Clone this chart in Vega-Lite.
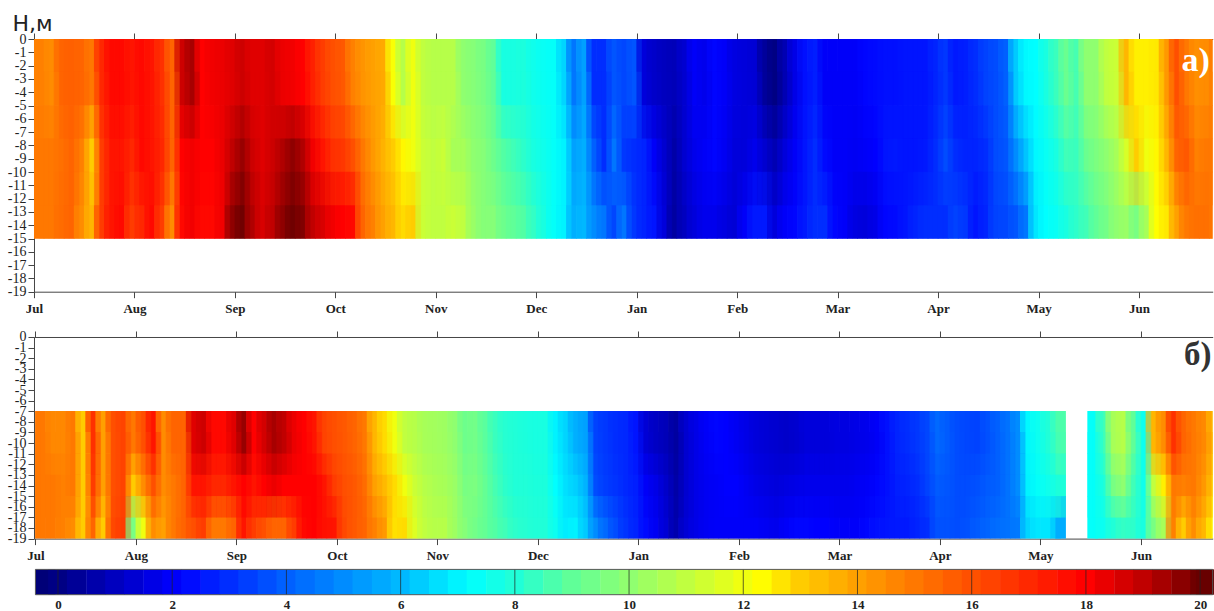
{"$schema":"https://vega.github.io/schema/vega-lite/v6.json","bounds":"flush","spacing":45,"padding":{"left":7,"top":12,"right":0,"bottom":0},"background":"white","config":{"view":{"stroke":null},"axis":{"grid":false,"labelFont":"Liberation Serif","labelColor":"#222","domainColor":"#444","tickColor":"#444","tickSize":6,"labelOverlap":false,"labelFlush":false,"labelBound":false}},"datasets":{"a":[
{"t":0.05,"d":-2.5,"v":14.8},{"t":0.05,"d":-7.5,"v":15},{"t":0.05,"d":-12.5,"v":15},
{"t":0.15,"d":-2.5,"v":14.5},{"t":0.15,"d":-7.5,"v":15},{"t":0.15,"d":-12.5,"v":15},
{"t":0.25,"d":-2.5,"v":15.5},{"t":0.25,"d":-7.5,"v":15.2},{"t":0.25,"d":-12.5,"v":15.3},
{"t":0.35,"d":-2.5,"v":15.6},{"t":0.35,"d":-7.5,"v":15.5},{"t":0.35,"d":-12.5,"v":15.5},
{"t":0.45,"d":-2.5,"v":15.5},{"t":0.45,"d":-7.5,"v":14.8},{"t":0.45,"d":-12.5,"v":14.5},
{"t":0.55,"d":-2.5,"v":15},{"t":0.55,"d":-7.5,"v":13},{"t":0.55,"d":-12.5,"v":13.5},
{"t":0.65,"d":-2.5,"v":17},{"t":0.65,"d":-7.5,"v":16.5},{"t":0.65,"d":-12.5,"v":16.5},
{"t":0.75,"d":-2.5,"v":17.8},{"t":0.75,"d":-7.5,"v":17.5},{"t":0.75,"d":-12.5,"v":17.5},
{"t":0.85,"d":-2.5,"v":17.8},{"t":0.85,"d":-7.5,"v":17.5},{"t":0.85,"d":-12.5,"v":17.8},
{"t":0.95,"d":-2.5,"v":17.5},{"t":0.95,"d":-7.5,"v":17},{"t":0.95,"d":-12.5,"v":16.5},
{"t":1.05,"d":-2.5,"v":17.8},{"t":1.05,"d":-7.5,"v":17.8},{"t":1.05,"d":-12.5,"v":17},
{"t":1.15,"d":-2.5,"v":17.5},{"t":1.15,"d":-7.5,"v":17.5},{"t":1.15,"d":-12.5,"v":17.8},
{"t":1.25,"d":-2.5,"v":16.8},{"t":1.25,"d":-7.5,"v":17},{"t":1.25,"d":-12.5,"v":16.5},
{"t":1.35,"d":-2.5,"v":15.5},{"t":1.35,"d":-7.5,"v":15.5},{"t":1.35,"d":-12.5,"v":14.5},
{"t":1.45,"d":-2.5,"v":18.8},{"t":1.45,"d":-7.5,"v":18},{"t":1.45,"d":-12.5,"v":17.8},
{"t":1.55,"d":-2.5,"v":19.3},{"t":1.55,"d":-7.5,"v":18.2},{"t":1.55,"d":-12.5,"v":18.2},
{"t":1.65,"d":-2.5,"v":18},{"t":1.65,"d":-7.5,"v":18},{"t":1.65,"d":-12.5,"v":17.8},
{"t":1.75,"d":-2.5,"v":18.2},{"t":1.75,"d":-7.5,"v":18},{"t":1.75,"d":-12.5,"v":17.8},
{"t":1.85,"d":-2.5,"v":18.3},{"t":1.85,"d":-7.5,"v":18.3},{"t":1.85,"d":-12.5,"v":18.2},
{"t":1.95,"d":-2.5,"v":18.5},{"t":1.95,"d":-7.5,"v":19},{"t":1.95,"d":-12.5,"v":19.6},
{"t":2.05,"d":-2.5,"v":18.8},{"t":2.05,"d":-7.5,"v":19.5},{"t":2.05,"d":-12.5,"v":20},
{"t":2.15,"d":-2.5,"v":18.5},{"t":2.15,"d":-7.5,"v":18.8},{"t":2.15,"d":-12.5,"v":19.2},
{"t":2.25,"d":-2.5,"v":18.5},{"t":2.25,"d":-7.5,"v":18.5},{"t":2.25,"d":-12.5,"v":18.6},
{"t":2.35,"d":-2.5,"v":18.7},{"t":2.35,"d":-7.5,"v":18.8},{"t":2.35,"d":-12.5,"v":19},
{"t":2.45,"d":-2.5,"v":18.3},{"t":2.45,"d":-7.5,"v":19.2},{"t":2.45,"d":-12.5,"v":19.6},
{"t":2.55,"d":-2.5,"v":18.2},{"t":2.55,"d":-7.5,"v":19.6},{"t":2.55,"d":-12.5,"v":20},
{"t":2.65,"d":-2.5,"v":18},{"t":2.65,"d":-7.5,"v":19.2},{"t":2.65,"d":-12.5,"v":19.8},
{"t":2.75,"d":-2.5,"v":17.2},{"t":2.75,"d":-7.5,"v":18.2},{"t":2.75,"d":-12.5,"v":19},
{"t":2.85,"d":-2.5,"v":16.5},{"t":2.85,"d":-7.5,"v":17.5},{"t":2.85,"d":-12.5,"v":18.6},
{"t":2.95,"d":-2.5,"v":16},{"t":2.95,"d":-7.5,"v":16.8},{"t":2.95,"d":-12.5,"v":18.2},
{"t":3.05,"d":-2.5,"v":15.8},{"t":3.05,"d":-7.5,"v":16.6},{"t":3.05,"d":-12.5,"v":18},
{"t":3.15,"d":-2.5,"v":14.8},{"t":3.15,"d":-7.5,"v":16},{"t":3.15,"d":-12.5,"v":17.8},
{"t":3.25,"d":-2.5,"v":14.3},{"t":3.25,"d":-7.5,"v":15},{"t":3.25,"d":-12.5,"v":15.5},
{"t":3.35,"d":-2.5,"v":14},{"t":3.35,"d":-7.5,"v":14.2},{"t":3.35,"d":-12.5,"v":14.8},
{"t":3.45,"d":-2.5,"v":13.8},{"t":3.45,"d":-7.5,"v":13.6},{"t":3.45,"d":-12.5,"v":14},
{"t":3.55,"d":-2.5,"v":12.2},{"t":3.55,"d":-7.5,"v":13},{"t":3.55,"d":-12.5,"v":13.5},
{"t":3.65,"d":-2.5,"v":10.8},{"t":3.65,"d":-7.5,"v":12.4},{"t":3.65,"d":-12.5,"v":12.8},
{"t":3.75,"d":-2.5,"v":12},{"t":3.75,"d":-7.5,"v":12},{"t":3.75,"d":-12.5,"v":13},
{"t":3.85,"d":-2.5,"v":11},{"t":3.85,"d":-7.5,"v":11.2},{"t":3.85,"d":-12.5,"v":11.2},
{"t":3.95,"d":-2.5,"v":10.8},{"t":3.95,"d":-7.5,"v":11},{"t":3.95,"d":-12.5,"v":11},
{"t":4.05,"d":-2.5,"v":10.8},{"t":4.05,"d":-7.5,"v":11.2},{"t":4.05,"d":-12.5,"v":11},
{"t":4.15,"d":-2.5,"v":10.8},{"t":4.15,"d":-7.5,"v":10.5},{"t":4.15,"d":-12.5,"v":11.2},
{"t":4.25,"d":-2.5,"v":10},{"t":4.25,"d":-7.5,"v":10.5},{"t":4.25,"d":-12.5,"v":11},
{"t":4.35,"d":-2.5,"v":9.8},{"t":4.35,"d":-7.5,"v":10},{"t":4.35,"d":-12.5,"v":10.2},
{"t":4.45,"d":-2.5,"v":9.5},{"t":4.45,"d":-7.5,"v":9.8},{"t":4.45,"d":-12.5,"v":9.8},
{"t":4.55,"d":-2.5,"v":9},{"t":4.55,"d":-7.5,"v":9.3},{"t":4.55,"d":-12.5,"v":9.8},
{"t":4.65,"d":-2.5,"v":7.8},{"t":4.65,"d":-7.5,"v":8.8},{"t":4.65,"d":-12.5,"v":9.3},
{"t":4.75,"d":-2.5,"v":7.8},{"t":4.75,"d":-7.5,"v":8.5},{"t":4.75,"d":-12.5,"v":9},
{"t":4.85,"d":-2.5,"v":7.9},{"t":4.85,"d":-7.5,"v":8.2},{"t":4.85,"d":-12.5,"v":8.8},
{"t":4.95,"d":-2.5,"v":7.6},{"t":4.95,"d":-7.5,"v":7.8},{"t":4.95,"d":-12.5,"v":8.3},
{"t":5.05,"d":-2.5,"v":7.4},{"t":5.05,"d":-7.5,"v":7.6},{"t":5.05,"d":-12.5,"v":7.8},
{"t":5.15,"d":-2.5,"v":7.3},{"t":5.15,"d":-7.5,"v":7.3},{"t":5.15,"d":-12.5,"v":7.3},
{"t":5.25,"d":-2.5,"v":6.5},{"t":5.25,"d":-7.5,"v":7},{"t":5.25,"d":-12.5,"v":7},
{"t":5.35,"d":-2.5,"v":4.5},{"t":5.35,"d":-7.5,"v":5.5},{"t":5.35,"d":-12.5,"v":5.8},
{"t":5.45,"d":-2.5,"v":5.5},{"t":5.45,"d":-7.5,"v":5.8},{"t":5.45,"d":-12.5,"v":6},
{"t":5.55,"d":-2.5,"v":3},{"t":5.55,"d":-7.5,"v":4},{"t":5.55,"d":-12.5,"v":5},
{"t":5.65,"d":-2.5,"v":3},{"t":5.65,"d":-7.5,"v":3},{"t":5.65,"d":-12.5,"v":4.5},
{"t":5.75,"d":-2.5,"v":3.8},{"t":5.75,"d":-7.5,"v":4.5},{"t":5.75,"d":-12.5,"v":3.5},
{"t":5.85,"d":-2.5,"v":3.5},{"t":5.85,"d":-7.5,"v":3.2},{"t":5.85,"d":-12.5,"v":4.5},
{"t":5.95,"d":-2.5,"v":3.8},{"t":5.95,"d":-7.5,"v":3},{"t":5.95,"d":-12.5,"v":3.2},
{"t":6.05,"d":-2.5,"v":1.5},{"t":6.05,"d":-7.5,"v":2.8},{"t":6.05,"d":-12.5,"v":2.8},
{"t":6.15,"d":-2.5,"v":1.2},{"t":6.15,"d":-7.5,"v":2},{"t":6.15,"d":-12.5,"v":2.5},
{"t":6.25,"d":-2.5,"v":1},{"t":6.25,"d":-7.5,"v":1.3},{"t":6.25,"d":-12.5,"v":1.5},
{"t":6.35,"d":-2.5,"v":0.9},{"t":6.35,"d":-7.5,"v":0.6},{"t":6.35,"d":-12.5,"v":0.5},
{"t":6.45,"d":-2.5,"v":1.3},{"t":6.45,"d":-7.5,"v":1.3},{"t":6.45,"d":-12.5,"v":1},
{"t":6.55,"d":-2.5,"v":2},{"t":6.55,"d":-7.5,"v":1.8},{"t":6.55,"d":-12.5,"v":1.5},
{"t":6.65,"d":-2.5,"v":1.8},{"t":6.65,"d":-7.5,"v":2},{"t":6.65,"d":-12.5,"v":1.8},
{"t":6.75,"d":-2.5,"v":2.2},{"t":6.75,"d":-7.5,"v":2.2},{"t":6.75,"d":-12.5,"v":1.8},
{"t":6.85,"d":-2.5,"v":2},{"t":6.85,"d":-7.5,"v":1.9},{"t":6.85,"d":-12.5,"v":1.6},
{"t":6.95,"d":-2.5,"v":1.6},{"t":6.95,"d":-7.5,"v":1.5},{"t":6.95,"d":-12.5,"v":1.4},
{"t":7.05,"d":-2.5,"v":1.5},{"t":7.05,"d":-7.5,"v":1.5},{"t":7.05,"d":-12.5,"v":2},
{"t":7.15,"d":-2.5,"v":1.4},{"t":7.15,"d":-7.5,"v":1.8},{"t":7.15,"d":-12.5,"v":2.6},
{"t":7.25,"d":-2.5,"v":0.4},{"t":7.25,"d":-7.5,"v":1.3},{"t":7.25,"d":-12.5,"v":2.6},
{"t":7.35,"d":-2.5,"v":0},{"t":7.35,"d":-7.5,"v":0.8},{"t":7.35,"d":-12.5,"v":1.5},
{"t":7.45,"d":-2.5,"v":0.8},{"t":7.45,"d":-7.5,"v":1.5},{"t":7.45,"d":-12.5,"v":2},
{"t":7.55,"d":-2.5,"v":1.7},{"t":7.55,"d":-7.5,"v":2},{"t":7.55,"d":-12.5,"v":2.2},
{"t":7.65,"d":-2.5,"v":2.4},{"t":7.65,"d":-7.5,"v":2.5},{"t":7.65,"d":-12.5,"v":2.6},
{"t":7.75,"d":-2.5,"v":2.7},{"t":7.75,"d":-7.5,"v":3},{"t":7.75,"d":-12.5,"v":3},
{"t":7.85,"d":-2.5,"v":2},{"t":7.85,"d":-7.5,"v":2.3},{"t":7.85,"d":-12.5,"v":3},
{"t":7.95,"d":-2.5,"v":2},{"t":7.95,"d":-7.5,"v":2},{"t":7.95,"d":-12.5,"v":2.2},
{"t":8.05,"d":-2.5,"v":2},{"t":8.05,"d":-7.5,"v":2},{"t":8.05,"d":-12.5,"v":2},
{"t":8.15,"d":-2.5,"v":2},{"t":8.15,"d":-7.5,"v":1.9},{"t":8.15,"d":-12.5,"v":1.6},
{"t":8.25,"d":-2.5,"v":2.2},{"t":8.25,"d":-7.5,"v":2},{"t":8.25,"d":-12.5,"v":1.5},
{"t":8.35,"d":-2.5,"v":2.3},{"t":8.35,"d":-7.5,"v":2.1},{"t":8.35,"d":-12.5,"v":1.7},
{"t":8.45,"d":-2.5,"v":2.4},{"t":8.45,"d":-7.5,"v":2.5},{"t":8.45,"d":-12.5,"v":2.2},
{"t":8.55,"d":-2.5,"v":2.4},{"t":8.55,"d":-7.5,"v":2.6},{"t":8.55,"d":-12.5,"v":2.3},
{"t":8.65,"d":-2.5,"v":2.5},{"t":8.65,"d":-7.5,"v":2.5},{"t":8.65,"d":-12.5,"v":2.5},
{"t":8.75,"d":-2.5,"v":2.5},{"t":8.75,"d":-7.5,"v":2.5},{"t":8.75,"d":-12.5,"v":2.8},
{"t":8.85,"d":-2.5,"v":2.5},{"t":8.85,"d":-7.5,"v":2.6},{"t":8.85,"d":-12.5,"v":3},
{"t":8.95,"d":-2.5,"v":2.8},{"t":8.95,"d":-7.5,"v":3},{"t":8.95,"d":-12.5,"v":3},
{"t":9.05,"d":-2.5,"v":3.2},{"t":9.05,"d":-7.5,"v":3.6},{"t":9.05,"d":-12.5,"v":3},
{"t":9.15,"d":-2.5,"v":2.6},{"t":9.15,"d":-7.5,"v":3},{"t":9.15,"d":-12.5,"v":3.4},
{"t":9.25,"d":-2.5,"v":2.7},{"t":9.25,"d":-7.5,"v":2.8},{"t":9.25,"d":-12.5,"v":3.2},
{"t":9.35,"d":-2.5,"v":3},{"t":9.35,"d":-7.5,"v":2.8},{"t":9.35,"d":-12.5,"v":2.5},
{"t":9.45,"d":-2.5,"v":3.4},{"t":9.45,"d":-7.5,"v":3},{"t":9.45,"d":-12.5,"v":2.8},
{"t":9.55,"d":-2.5,"v":3.6},{"t":9.55,"d":-7.5,"v":3.6},{"t":9.55,"d":-12.5,"v":3.4},
{"t":9.65,"d":-2.5,"v":4},{"t":9.65,"d":-7.5,"v":3.8},{"t":9.65,"d":-12.5,"v":3.5},
{"t":9.75,"d":-2.5,"v":6.3},{"t":9.75,"d":-7.5,"v":5},{"t":9.75,"d":-12.5,"v":3.8},
{"t":9.85,"d":-2.5,"v":7.1},{"t":9.85,"d":-7.5,"v":6.2},{"t":9.85,"d":-12.5,"v":4.5},
{"t":9.95,"d":-2.5,"v":7.2},{"t":9.95,"d":-7.5,"v":7.1},{"t":9.95,"d":-12.5,"v":6.8},
{"t":10.05,"d":-2.5,"v":7.8},{"t":10.05,"d":-7.5,"v":7.4},{"t":10.05,"d":-12.5,"v":7.2},
{"t":10.15,"d":-2.5,"v":8.4},{"t":10.15,"d":-7.5,"v":7.8},{"t":10.15,"d":-12.5,"v":7.4},
{"t":10.25,"d":-2.5,"v":9.2},{"t":10.25,"d":-7.5,"v":8.5},{"t":10.25,"d":-12.5,"v":7.8},
{"t":10.35,"d":-2.5,"v":8.6},{"t":10.35,"d":-7.5,"v":8.4},{"t":10.35,"d":-12.5,"v":8.2},
{"t":10.45,"d":-2.5,"v":10},{"t":10.45,"d":-7.5,"v":9.2},{"t":10.45,"d":-12.5,"v":8.5},
{"t":10.55,"d":-2.5,"v":10},{"t":10.55,"d":-7.5,"v":9.6},{"t":10.55,"d":-12.5,"v":9},
{"t":10.65,"d":-2.5,"v":11},{"t":10.65,"d":-7.5,"v":10},{"t":10.65,"d":-12.5,"v":9.4},
{"t":10.75,"d":-2.5,"v":11.2},{"t":10.75,"d":-7.5,"v":10.5},{"t":10.75,"d":-12.5,"v":10},
{"t":10.85,"d":-2.5,"v":13.5},{"t":10.85,"d":-7.5,"v":11.5},{"t":10.85,"d":-12.5,"v":10.2},
{"t":10.95,"d":-2.5,"v":12.5},{"t":10.95,"d":-7.5,"v":13},{"t":10.95,"d":-12.5,"v":9.5},
{"t":11.05,"d":-2.5,"v":12.5},{"t":11.05,"d":-7.5,"v":12},{"t":11.05,"d":-12.5,"v":10.5},
{"t":11.15,"d":-2.5,"v":12.6},{"t":11.15,"d":-7.5,"v":12.4},{"t":11.15,"d":-12.5,"v":12.3},
{"t":11.25,"d":-2.5,"v":14.2},{"t":11.25,"d":-7.5,"v":13.5},{"t":11.25,"d":-12.5,"v":12.6},
{"t":11.35,"d":-2.5,"v":16},{"t":11.35,"d":-7.5,"v":15.5},{"t":11.35,"d":-12.5,"v":14},
{"t":11.45,"d":-2.5,"v":15},{"t":11.45,"d":-7.5,"v":15.8},{"t":11.45,"d":-12.5,"v":15},
{"t":11.55,"d":-2.5,"v":14.4},{"t":11.55,"d":-7.5,"v":14.8},{"t":11.55,"d":-12.5,"v":15.2},
{"t":11.65,"d":-2.5,"v":14.5},{"t":11.65,"d":-7.5,"v":15},{"t":11.65,"d":-12.5,"v":15.2},
{"t":11.75,"d":-2.5,"v":15},{"t":11.75,"d":-7.5,"v":15},{"t":11.75,"d":-12.5,"v":15}
],"b":[
{"t":0.05,"d":-9,"v":15},{"t":0.05,"d":-13,"v":15},{"t":0.05,"d":-17,"v":15},
{"t":0.15,"d":-9,"v":14.6},{"t":0.15,"d":-13,"v":15},{"t":0.15,"d":-17,"v":15},
{"t":0.25,"d":-9,"v":14.6},{"t":0.25,"d":-13,"v":14.8},{"t":0.25,"d":-17,"v":14.8},
{"t":0.35,"d":-9,"v":15},{"t":0.35,"d":-13,"v":15},{"t":0.35,"d":-17,"v":14.5},
{"t":0.45,"d":-9,"v":13},{"t":0.45,"d":-13,"v":13},{"t":0.45,"d":-17,"v":13},
{"t":0.55,"d":-9,"v":16.8},{"t":0.55,"d":-13,"v":16.5},{"t":0.55,"d":-17,"v":15.5},
{"t":0.65,"d":-9,"v":14},{"t":0.65,"d":-13,"v":14},{"t":0.65,"d":-17,"v":13},
{"t":0.75,"d":-9,"v":16},{"t":0.75,"d":-13,"v":16},{"t":0.75,"d":-17,"v":16.2},
{"t":0.85,"d":-9,"v":16.3},{"t":0.85,"d":-13,"v":16.3},{"t":0.85,"d":-17,"v":16.5},
{"t":0.95,"d":-9,"v":15},{"t":0.95,"d":-13,"v":13},{"t":0.95,"d":-17,"v":9.5},
{"t":1.05,"d":-9,"v":16},{"t":1.05,"d":-13,"v":14.5},{"t":1.05,"d":-17,"v":12},
{"t":1.15,"d":-9,"v":17.5},{"t":1.15,"d":-13,"v":16},{"t":1.15,"d":-17,"v":14.5},
{"t":1.25,"d":-9,"v":14.5},{"t":1.25,"d":-13,"v":14.5},{"t":1.25,"d":-17,"v":14},
{"t":1.35,"d":-9,"v":15.5},{"t":1.35,"d":-13,"v":15},{"t":1.35,"d":-17,"v":15},
{"t":1.45,"d":-9,"v":15.5},{"t":1.45,"d":-13,"v":15.5},{"t":1.45,"d":-17,"v":15.5},
{"t":1.55,"d":-9,"v":18.5},{"t":1.55,"d":-13,"v":17.5},{"t":1.55,"d":-17,"v":16},
{"t":1.65,"d":-9,"v":18.8},{"t":1.65,"d":-13,"v":17.5},{"t":1.65,"d":-17,"v":16.5},
{"t":1.75,"d":-9,"v":17.8},{"t":1.75,"d":-13,"v":17},{"t":1.75,"d":-17,"v":15},
{"t":1.85,"d":-9,"v":17.8},{"t":1.85,"d":-13,"v":17},{"t":1.85,"d":-17,"v":15},
{"t":1.95,"d":-9,"v":18.5},{"t":1.95,"d":-13,"v":17.5},{"t":1.95,"d":-17,"v":15.5},
{"t":2.05,"d":-9,"v":19.5},{"t":2.05,"d":-13,"v":18},{"t":2.05,"d":-17,"v":17.5},
{"t":2.15,"d":-9,"v":18},{"t":2.15,"d":-13,"v":17.5},{"t":2.15,"d":-17,"v":16.5},
{"t":2.25,"d":-9,"v":18.7},{"t":2.25,"d":-13,"v":18},{"t":2.25,"d":-17,"v":16},
{"t":2.35,"d":-9,"v":19.3},{"t":2.35,"d":-13,"v":18.3},{"t":2.35,"d":-17,"v":15.5},
{"t":2.45,"d":-9,"v":19},{"t":2.45,"d":-13,"v":18},{"t":2.45,"d":-17,"v":15.5},
{"t":2.55,"d":-9,"v":18.3},{"t":2.55,"d":-13,"v":18},{"t":2.55,"d":-17,"v":16.5},
{"t":2.65,"d":-9,"v":18},{"t":2.65,"d":-13,"v":18},{"t":2.65,"d":-17,"v":17.8},
{"t":2.75,"d":-9,"v":17.5},{"t":2.75,"d":-13,"v":18},{"t":2.75,"d":-17,"v":18},
{"t":2.85,"d":-9,"v":16.3},{"t":2.85,"d":-13,"v":17.5},{"t":2.85,"d":-17,"v":17.6},
{"t":2.95,"d":-9,"v":16},{"t":2.95,"d":-13,"v":16.5},{"t":2.95,"d":-17,"v":17.5},
{"t":3.05,"d":-9,"v":15.8},{"t":3.05,"d":-13,"v":16},{"t":3.05,"d":-17,"v":16.2},
{"t":3.15,"d":-9,"v":15.5},{"t":3.15,"d":-13,"v":15.8},{"t":3.15,"d":-17,"v":15.8},
{"t":3.25,"d":-9,"v":15},{"t":3.25,"d":-13,"v":15.3},{"t":3.25,"d":-17,"v":15.5},
{"t":3.35,"d":-9,"v":13.5},{"t":3.35,"d":-13,"v":14},{"t":3.35,"d":-17,"v":14.8},
{"t":3.45,"d":-9,"v":12.8},{"t":3.45,"d":-13,"v":13.4},{"t":3.45,"d":-17,"v":14.2},
{"t":3.55,"d":-9,"v":12},{"t":3.55,"d":-13,"v":12.8},{"t":3.55,"d":-17,"v":12.7},
{"t":3.65,"d":-9,"v":11},{"t":3.65,"d":-13,"v":12},{"t":3.65,"d":-17,"v":12.8},
{"t":3.75,"d":-9,"v":10.8},{"t":3.75,"d":-13,"v":11.2},{"t":3.75,"d":-17,"v":11.6},
{"t":3.85,"d":-9,"v":10.5},{"t":3.85,"d":-13,"v":10.8},{"t":3.85,"d":-17,"v":11},
{"t":3.95,"d":-9,"v":10.4},{"t":3.95,"d":-13,"v":10.6},{"t":3.95,"d":-17,"v":10.8},
{"t":4.05,"d":-9,"v":10.3},{"t":4.05,"d":-13,"v":10.5},{"t":4.05,"d":-17,"v":10.8},
{"t":4.15,"d":-9,"v":10},{"t":4.15,"d":-13,"v":10.2},{"t":4.15,"d":-17,"v":10.3},
{"t":4.25,"d":-9,"v":9.3},{"t":4.25,"d":-13,"v":9.5},{"t":4.25,"d":-17,"v":9.8},
{"t":4.35,"d":-9,"v":9.4},{"t":4.35,"d":-13,"v":9.6},{"t":4.35,"d":-17,"v":9.4},
{"t":4.45,"d":-9,"v":8.9},{"t":4.45,"d":-13,"v":9.1},{"t":4.45,"d":-17,"v":9.1},
{"t":4.55,"d":-9,"v":8.4},{"t":4.55,"d":-13,"v":8.6},{"t":4.55,"d":-17,"v":8.8},
{"t":4.65,"d":-9,"v":8.1},{"t":4.65,"d":-13,"v":8.2},{"t":4.65,"d":-17,"v":8.5},
{"t":4.75,"d":-9,"v":8},{"t":4.75,"d":-13,"v":8},{"t":4.75,"d":-17,"v":8.2},
{"t":4.85,"d":-9,"v":7.9},{"t":4.85,"d":-13,"v":8},{"t":4.85,"d":-17,"v":8.1},
{"t":4.95,"d":-9,"v":7.8},{"t":4.95,"d":-13,"v":7.9},{"t":4.95,"d":-17,"v":8},
{"t":5.05,"d":-9,"v":7.8},{"t":5.05,"d":-13,"v":7.9},{"t":5.05,"d":-17,"v":8},
{"t":5.15,"d":-9,"v":7},{"t":5.15,"d":-13,"v":7.2},{"t":5.15,"d":-17,"v":7.5},
{"t":5.25,"d":-9,"v":6.5},{"t":5.25,"d":-13,"v":6.7},{"t":5.25,"d":-17,"v":6.9},
{"t":5.35,"d":-9,"v":5.8},{"t":5.35,"d":-13,"v":6.4},{"t":5.35,"d":-17,"v":7},
{"t":5.45,"d":-9,"v":5.5},{"t":5.45,"d":-13,"v":5.9},{"t":5.45,"d":-17,"v":6.3},
{"t":5.55,"d":-9,"v":3.4},{"t":5.55,"d":-13,"v":3.6},{"t":5.55,"d":-17,"v":5},
{"t":5.65,"d":-9,"v":3.2},{"t":5.65,"d":-13,"v":3.3},{"t":5.65,"d":-17,"v":4.2},
{"t":5.75,"d":-9,"v":3},{"t":5.75,"d":-13,"v":3.1},{"t":5.75,"d":-17,"v":3.6},
{"t":5.85,"d":-9,"v":2.9},{"t":5.85,"d":-13,"v":2.9},{"t":5.85,"d":-17,"v":3.1},
{"t":5.95,"d":-9,"v":2.5},{"t":5.95,"d":-13,"v":2.7},{"t":5.95,"d":-17,"v":2.8},
{"t":6.05,"d":-9,"v":1.4},{"t":6.05,"d":-13,"v":2},{"t":6.05,"d":-17,"v":2.3},
{"t":6.15,"d":-9,"v":1.1},{"t":6.15,"d":-13,"v":1.7},{"t":6.15,"d":-17,"v":1.9},
{"t":6.25,"d":-9,"v":0.9},{"t":6.25,"d":-13,"v":1.2},{"t":6.25,"d":-17,"v":1.4},
{"t":6.35,"d":-9,"v":0.5},{"t":6.35,"d":-13,"v":0.6},{"t":6.35,"d":-17,"v":0.7},
{"t":6.45,"d":-9,"v":1.3},{"t":6.45,"d":-13,"v":1.3},{"t":6.45,"d":-17,"v":1.4},
{"t":6.55,"d":-9,"v":1.7},{"t":6.55,"d":-13,"v":1.7},{"t":6.55,"d":-17,"v":1.7},
{"t":6.65,"d":-9,"v":2},{"t":6.65,"d":-13,"v":1.9},{"t":6.65,"d":-17,"v":1.9},
{"t":6.75,"d":-9,"v":2.2},{"t":6.75,"d":-13,"v":2},{"t":6.75,"d":-17,"v":2},
{"t":6.85,"d":-9,"v":2.1},{"t":6.85,"d":-13,"v":2.1},{"t":6.85,"d":-17,"v":2},
{"t":6.95,"d":-9,"v":1.9},{"t":6.95,"d":-13,"v":2.1},{"t":6.95,"d":-17,"v":2},
{"t":7.05,"d":-9,"v":1.7},{"t":7.05,"d":-13,"v":1.9},{"t":7.05,"d":-17,"v":2},
{"t":7.15,"d":-9,"v":1.5},{"t":7.15,"d":-13,"v":1.7},{"t":7.15,"d":-17,"v":2},
{"t":7.25,"d":-9,"v":1.4},{"t":7.25,"d":-13,"v":1.6},{"t":7.25,"d":-17,"v":1.9},
{"t":7.35,"d":-9,"v":1.3},{"t":7.35,"d":-13,"v":1.5},{"t":7.35,"d":-17,"v":1.8},
{"t":7.45,"d":-9,"v":1.2},{"t":7.45,"d":-13,"v":1.6},{"t":7.45,"d":-17,"v":2},
{"t":7.55,"d":-9,"v":1.3},{"t":7.55,"d":-13,"v":1.7},{"t":7.55,"d":-17,"v":2.2},
{"t":7.65,"d":-9,"v":1.5},{"t":7.65,"d":-13,"v":1.8},{"t":7.65,"d":-17,"v":2.2},
{"t":7.75,"d":-9,"v":1.5},{"t":7.75,"d":-13,"v":1.8},{"t":7.75,"d":-17,"v":2.1},
{"t":7.85,"d":-9,"v":1.5},{"t":7.85,"d":-13,"v":1.8},{"t":7.85,"d":-17,"v":2.1},
{"t":7.95,"d":-9,"v":1.6},{"t":7.95,"d":-13,"v":1.8},{"t":7.95,"d":-17,"v":2},
{"t":8.05,"d":-9,"v":1.6},{"t":8.05,"d":-13,"v":1.8},{"t":8.05,"d":-17,"v":2},
{"t":8.15,"d":-9,"v":1.7},{"t":8.15,"d":-13,"v":1.9},{"t":8.15,"d":-17,"v":2},
{"t":8.25,"d":-9,"v":1.8},{"t":8.25,"d":-13,"v":2},{"t":8.25,"d":-17,"v":2.2},
{"t":8.35,"d":-9,"v":2},{"t":8.35,"d":-13,"v":2.2},{"t":8.35,"d":-17,"v":2.4},
{"t":8.45,"d":-9,"v":2.4},{"t":8.45,"d":-13,"v":2.4},{"t":8.45,"d":-17,"v":2.5},
{"t":8.55,"d":-9,"v":2.8},{"t":8.55,"d":-13,"v":2.7},{"t":8.55,"d":-17,"v":2.6},
{"t":8.65,"d":-9,"v":3},{"t":8.65,"d":-13,"v":2.8},{"t":8.65,"d":-17,"v":2.6},
{"t":8.75,"d":-9,"v":3.2},{"t":8.75,"d":-13,"v":3},{"t":8.75,"d":-17,"v":2.8},
{"t":8.85,"d":-9,"v":3.5},{"t":8.85,"d":-13,"v":3.4},{"t":8.85,"d":-17,"v":3},
{"t":8.95,"d":-9,"v":4.2},{"t":8.95,"d":-13,"v":3.9},{"t":8.95,"d":-17,"v":3.7},
{"t":9.05,"d":-9,"v":3.9},{"t":9.05,"d":-13,"v":3.8},{"t":9.05,"d":-17,"v":3.7},
{"t":9.15,"d":-9,"v":3.6},{"t":9.15,"d":-13,"v":3.6},{"t":9.15,"d":-17,"v":3.6},
{"t":9.25,"d":-9,"v":3.5},{"t":9.25,"d":-13,"v":3.6},{"t":9.25,"d":-17,"v":3.7},
{"t":9.35,"d":-9,"v":3.4},{"t":9.35,"d":-13,"v":3.7},{"t":9.35,"d":-17,"v":3.9},
{"t":9.45,"d":-9,"v":3.7},{"t":9.45,"d":-13,"v":3.9},{"t":9.45,"d":-17,"v":4.1},
{"t":9.55,"d":-9,"v":4},{"t":9.55,"d":-13,"v":4},{"t":9.55,"d":-17,"v":4.3},
{"t":9.65,"d":-9,"v":4.4},{"t":9.65,"d":-13,"v":4.4},{"t":9.65,"d":-17,"v":4.4},
{"t":9.75,"d":-9,"v":5},{"t":9.75,"d":-13,"v":5},{"t":9.75,"d":-17,"v":4.6},
{"t":9.85,"d":-9,"v":7.1},{"t":9.85,"d":-13,"v":7},{"t":9.85,"d":-17,"v":6.5},
{"t":9.95,"d":-9,"v":7.5},{"t":9.95,"d":-13,"v":7.3},{"t":9.95,"d":-17,"v":6.8},
{"t":10.05,"d":-9,"v":8},{"t":10.05,"d":-13,"v":7.6},{"t":10.05,"d":-17,"v":6.8},
{"t":10.15,"d":-9,"v":8.5},{"t":10.15,"d":-13,"v":7.9},{"t":10.15,"d":-17,"v":6.2},
{"t":10.2,"d":-9,"v":8.8},{"t":10.2,"d":-13,"v":8},{"t":10.2,"d":-17,"v":5.5},
{"t":10.52,"d":-9,"v":7.3},{"t":10.52,"d":-13,"v":7.3},{"t":10.52,"d":-17,"v":7.3},
{"t":10.6,"d":-9,"v":8.5},{"t":10.6,"d":-13,"v":8},{"t":10.6,"d":-17,"v":7.5},
{"t":10.7,"d":-9,"v":10.5},{"t":10.7,"d":-13,"v":9.5},{"t":10.7,"d":-17,"v":8},
{"t":10.8,"d":-9,"v":10.8},{"t":10.8,"d":-13,"v":10},{"t":10.8,"d":-17,"v":8.3},
{"t":10.9,"d":-9,"v":9},{"t":10.9,"d":-13,"v":8.5},{"t":10.9,"d":-17,"v":8.2},
{"t":11,"d":-9,"v":7.5},{"t":11,"d":-13,"v":7.6},{"t":11,"d":-17,"v":7.8},
{"t":11.1,"d":-9,"v":13.5},{"t":11.1,"d":-13,"v":11},{"t":11.1,"d":-17,"v":9.5},
{"t":11.2,"d":-9,"v":14.5},{"t":11.2,"d":-13,"v":12.5},{"t":11.2,"d":-17,"v":10.5},
{"t":11.3,"d":-9,"v":16.8},{"t":11.3,"d":-13,"v":15},{"t":11.3,"d":-17,"v":14.8},
{"t":11.4,"d":-9,"v":15.5},{"t":11.4,"d":-13,"v":14.8},{"t":11.4,"d":-17,"v":13},
{"t":11.5,"d":-9,"v":15},{"t":11.5,"d":-13,"v":15},{"t":11.5,"d":-17,"v":14.5},
{"t":11.6,"d":-9,"v":14.6},{"t":11.6,"d":-13,"v":14.2},{"t":11.6,"d":-17,"v":13.5},
{"t":11.7,"d":-9,"v":13.5},{"t":11.7,"d":-13,"v":13},{"t":11.7,"d":-17,"v":12.5}
]},
"vconcat":[
{"width":1178.7,"height":252.7,"resolve":{"axis":{"x":"independent"}},"layer":[
{"data":{"name":"a"},"encoding":{
"x":{"field":"t","type":"quantitative","scale":{"domain":[0,11.734],"nice":false,"zero":false},"axis":{"orient":"bottom","title":null,"values":[0,1,2,3,4,5,6,7,8,9,10,11],"labelExpr":"['Jul','Aug','Sep','Oct','Nov','Dec','Jan','Feb','Mar','Apr','May','Jun'][datum.value]","labelFontSize":13,"labelFontWeight":"bold","labelPadding":5}},
"y":{"field":"d","type":"quantitative","scale":{"domain":[-19,0],"nice":false,"zero":false},"axis":{"values":[0,-1,-2,-3,-4,-5,-6,-7,-8,-9,-10,-11,-12,-13,-14,-15,-16,-17,-18,-19],"labelExpr":"''+datum.value","labelFontSize":14,"labelPadding":2,"title":"Н,м","titleFont":"DejaVu Sans","titleFontSize":22,"titleFontWeight":"normal","titleColor":"#222","titleAngle":0,"titleAlign":"left","titleBaseline":"alphabetic","titleX":-22,"titleY":-9}},
"color":{"field":"v","type":"quantitative","legend":null,"scale":{"interpolate":"rgb","clamp":true,"domain":[-0.4,0,2.1,4,6,7.2,8,9,10,11,12,12.3,13,14,15,16,17,18,19,20,20.2],"range":["#00006e","#000084","#0000ff","#0060ff","#00b8ff","#00ffff","#20ffd8","#60ff98","#90ff70","#c0ff40","#f0ff10","#ffff00","#ffcc00","#ffa000","#ff7800","#ff5000","#ff2800","#ff0000","#c00000","#700000","#600000"]}}},
"layer":[
{"mark":{"type":"rect","width":10.7,"height":67,"clip":true}},
{"transform":[{"filter":"datum.d>-12"}],"mark":{"type":"rect","width":10.7,"height":67,"clip":true,"yOffset":33,"opacity":0.5}},
{"mark":{"type":"rect","width":10.7,"height":67,"clip":true,"xOffset":5,"opacity":0.33}},
{"transform":[{"filter":"datum.d>-12"}],"mark":{"type":"rect","width":10.7,"height":67,"clip":true,"xOffset":5,"yOffset":33,"opacity":0.25}}
]},
{"data":{"values":[{"t":11.565,"d":-1.65,"label":"а)"}]},"mark":{"type":"text","font":"Liberation Serif","fontWeight":"bold","fontSize":34,"color":"white","baseline":"middle"},"encoding":{
"x":{"field":"t","type":"quantitative","axis":{"orient":"top","title":null,"labels":false,"values":[0,1,2,3,4,5,6,7,8,9,10,11]}},
"y":{"field":"d","type":"quantitative","axis":{"values":[0,-1,-2,-3,-4,-5,-6,-7,-8,-9,-10,-11,-12,-13,-14,-15,-16,-17,-18,-19],"labelExpr":"''+datum.value","labelFontSize":14,"labelPadding":2,"title":"Н,м","titleFont":"DejaVu Sans","titleFontSize":22,"titleFontWeight":"normal","titleColor":"#222","titleAngle":0,"titleAlign":"left","titleBaseline":"alphabetic","titleX":-22,"titleY":-9}},
"text":{"field":"label"}}}
]},
{"width":1178.7,"height":201.6,"resolve":{"axis":{"x":"independent"}},"layer":[
{"data":{"name":"b"},"encoding":{
"x":{"field":"t","type":"quantitative","scale":{"domain":[-0.014,11.714],"nice":false,"zero":false},"axis":{"orient":"bottom","title":null,"values":[0,1,2,3,4,5,6,7,8,9,10,11],"labelExpr":"['Jul','Aug','Sep','Oct','Nov','Dec','Jan','Feb','Mar','Apr','May','Jun'][datum.value]","labelFontSize":13,"labelFontWeight":"bold","labelPadding":5}},
"y":{"field":"d","type":"quantitative","scale":{"domain":[-19,0],"nice":false,"zero":false},"axis":{"values":[0,-1,-2,-3,-4,-5,-6,-7,-8,-9,-10,-11,-12,-13,-14,-15,-16,-17,-18,-19],"labelExpr":"''+datum.value","labelFontSize":14,"labelPadding":2,"title":null}},
"color":{"field":"v","type":"quantitative","legend":null,"scale":{"interpolate":"rgb","clamp":true,"domain":[-0.4,0,2.1,4,6,7.2,8,9,10,11,12,12.3,13,14,15,16,17,18,19,20,20.2],"range":["#00006e","#000084","#0000ff","#0060ff","#00b8ff","#00ffff","#20ffd8","#60ff98","#90ff70","#c0ff40","#f0ff10","#ffff00","#ffcc00","#ffa000","#ff7800","#ff5000","#ff2800","#ff0000","#c00000","#700000","#600000"]}}},
"layer":[
{"mark":{"type":"rect","width":10.7,"height":43,"clip":true}},
{"transform":[{"filter":"datum.d>-16"}],"mark":{"type":"rect","width":10.7,"height":43,"clip":true,"yOffset":21,"opacity":0.5}},
{"transform":[{"filter":"datum.t!=10.2"}],"mark":{"type":"rect","width":10.7,"height":43,"clip":true,"xOffset":5,"opacity":0.33}},
{"transform":[{"filter":"datum.d>-16 && datum.t!=10.2"}],"mark":{"type":"rect","width":10.7,"height":43,"clip":true,"xOffset":5,"yOffset":21,"opacity":0.25}}
]},
{"data":{"values":[{"t":11.565,"d":-1.73,"label":"б)"}]},"mark":{"type":"text","font":"Liberation Serif","fontWeight":"bold","fontSize":33,"color":"#333","baseline":"middle"},"encoding":{
"x":{"field":"t","type":"quantitative","axis":{"orient":"top","title":null,"labels":false,"values":[0,1,2,3,4,5,6,7,8,9,10,11]}},
"y":{"field":"d","type":"quantitative","axis":{"values":[0,-1,-2,-3,-4,-5,-6,-7,-8,-9,-10,-11,-12,-13,-14,-15,-16,-17,-18,-19],"labelExpr":"''+datum.value","labelFontSize":14,"labelPadding":2,"title":null}},
"text":{"field":"label"}}}
]},
{"width":1178.7,"height":25.3,"layer":[
{"data":{"values":[{"v":-0.22},{"v":0},{"v":0.33},{"v":0.67},{"v":1},{"v":1.33},{"v":1.67},{"v":2},{"v":2.33},{"v":2.67},{"v":3},{"v":3.33},{"v":3.67},{"v":4},{"v":4.33},{"v":4.67},{"v":5},{"v":5.33},{"v":5.67},{"v":6},{"v":6.33},{"v":6.67},{"v":7},{"v":7.33},{"v":7.67},{"v":8},{"v":8.33},{"v":8.67},{"v":9},{"v":9.33},{"v":9.67},{"v":10},{"v":10.33},{"v":10.67},{"v":11},{"v":11.33},{"v":11.67},{"v":12},{"v":12.33},{"v":12.67},{"v":13},{"v":13.33},{"v":13.67},{"v":14},{"v":14.33},{"v":14.67},{"v":15},{"v":15.33},{"v":15.67},{"v":16},{"v":16.33},{"v":16.67},{"v":17},{"v":17.33},{"v":17.67},{"v":18},{"v":18.33},{"v":18.67},{"v":19},{"v":19.33},{"v":19.67},{"v":20},{"v":20.1}]},"mark":{"type":"rect","width":19.8,"height":25.3,"yOffset":-1.95},"encoding":{
"x":{"field":"v","type":"quantitative","scale":{"domain":[-0.42,20.22],"nice":false,"zero":false},"axis":{"title":null,"values":[0,2,4,6,8,10,12,14,16,18,20],"format":"d","ticks":false,"domain":false,"labelFontSize":13,"labelFontWeight":"bold","labelPadding":4,"offset":-14.6,"zindex":1}},
"color":{"field":"v","type":"quantitative","legend":null,"scale":{"interpolate":"rgb","clamp":true,"domain":[-0.4,0,2.1,4,6,7.2,8,9,10,11,12,12.3,13,14,15,16,17,18,19,20,20.2],"range":["#00006e","#000084","#0000ff","#0060ff","#00b8ff","#00ffff","#20ffd8","#60ff98","#90ff70","#c0ff40","#f0ff10","#ffff00","#ffcc00","#ffa000","#ff7800","#ff5000","#ff2800","#ff0000","#c00000","#700000","#600000"]}}}},
{"data":{"values":[{"v":0},{"v":2},{"v":4},{"v":6},{"v":8},{"v":10},{"v":12},{"v":14},{"v":16},{"v":18},{"v":20}]},"mark":{"type":"tick","orient":"vertical","size":25.3,"thickness":1,"color":"#222","opacity":0.7,"yOffset":-14.6},"encoding":{"x":{"field":"v","type":"quantitative"}}},
{"data":{"values":[{"v":-0.395,"v2":20.22}]},"mark":{"type":"rect","fill":null,"stroke":"#555","strokeWidth":1,"height":25.3,"yOffset":-1.95},"encoding":{"x":{"field":"v","type":"quantitative"},"x2":{"field":"v2"}}}
]}
]}
